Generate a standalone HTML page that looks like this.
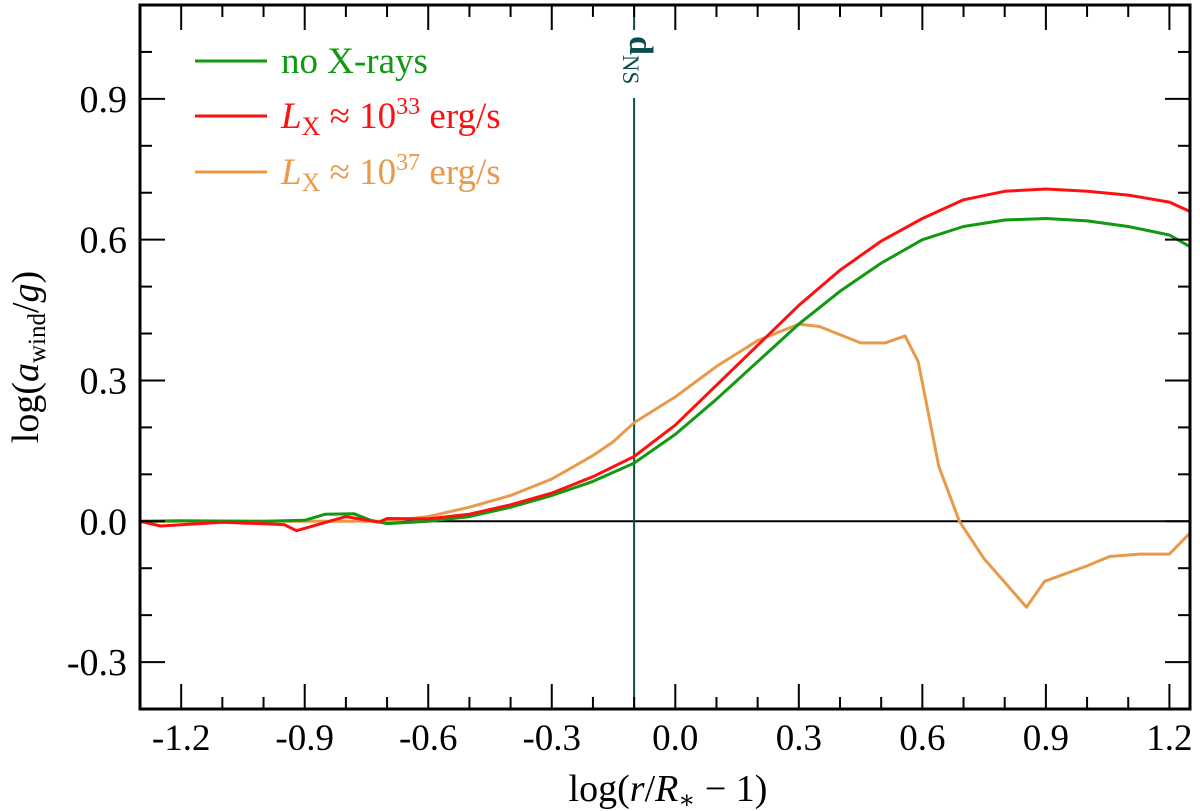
<!DOCTYPE html>
<html><head><meta charset="utf-8"><style>
html,body{margin:0;padding:0;background:#fff;}
svg{display:block;}
text{font-family:"Liberation Serif","DejaVu Serif",serif;}
</style></head><body>
<div style="position:relative;width:1200px;height:811px">
<svg id="chart" width="1200" height="811" viewBox="0 0 1200 811" style="position:absolute;left:0;top:0">
<g id="marks"></g>
<g id="axes"></g>
</svg>
<svg style="position:absolute;left:0;top:0" width="1200" height="811">
<text x="668" y="801" text-anchor="middle" font-size="38">log(<tspan font-style="italic">r</tspan>/<tspan font-style="italic">R</tspan><tspan font-size="25" dy="7">∗</tspan><tspan dy="-7"> − 1)</tspan></text>
<text transform="translate(38,357) rotate(-90)" text-anchor="middle" font-size="38">log(<tspan font-style="italic">a</tspan><tspan font-size="25" dy="7">wind</tspan><tspan dy="-7">/</tspan><tspan font-style="italic">g</tspan>)</text>
<g font-size="37">
<line x1="195" x2="267" y1="61" y2="61" stroke="#119911" stroke-width="3"/>
<text x="281" y="73" fill="#119911">no X-rays</text>
<line x1="195" x2="267" y1="116" y2="116" stroke="#ff1010" stroke-width="3"/>
<text x="281" y="128" fill="#ff1010"><tspan font-style="italic">L</tspan><tspan font-size="26" dy="7">X</tspan><tspan dy="-7"> ≈ 10</tspan><tspan font-size="24" dy="-14">33</tspan><tspan dy="14"> erg/s</tspan></text>
<line x1="195" x2="267" y1="172" y2="172" stroke="#e89a4a" stroke-width="3"/>
<text x="281" y="184" fill="#e89a4a"><tspan font-style="italic">L</tspan><tspan font-size="26" dy="7">X</tspan><tspan dy="-7"> ≈ 10</tspan><tspan font-size="24" dy="-14">37</tspan><tspan dy="14"> erg/s</tspan></text>
</g>
</svg>
</div>
<script>
const xTicks=[-1.2,-0.9,-0.6,-0.3,0.0,0.3,0.6,0.9,1.2];
const yTicks=[-0.3,0.0,0.3,0.6,0.9];
const dNS=-0.1;
const greenX=[-1.3,-1.2,-1.0,-0.9,-0.85,-0.78,-0.74,-0.7,-0.6,-0.5,-0.4,-0.3,-0.2,-0.1,0.0,0.1,0.2,0.3,0.4,0.5,0.6,0.7,0.8,0.9,1.0,1.1,1.2,1.25];
const greenY=[0,0.001,0.0,0.002,0.015,0.016,0.002,-0.005,0,0.01,0.03,0.055,0.085,0.124,0.185,0.26,0.34,0.42,0.49,0.55,0.6,0.628,0.642,0.645,0.64,0.628,0.61,0.585];
const redX=[-1.3,-1.25,-1.1,-0.95,-0.92,-0.8,-0.72,-0.7,-0.6,-0.5,-0.4,-0.3,-0.2,-0.1,0.0,0.1,0.2,0.3,0.4,0.5,0.6,0.7,0.8,0.9,1.0,1.1,1.2,1.25];
const redY=[0,-0.01,-0.002,-0.007,-0.02,0.01,-0.002,0.006,0.005,0.015,0.035,0.06,0.095,0.138,0.205,0.29,0.375,0.46,0.535,0.597,0.645,0.685,0.703,0.708,0.703,0.695,0.68,0.66];
const orangeX=[-1.3,-0.8,-0.7,-0.6,-0.5,-0.4,-0.3,-0.2,-0.15,-0.1,0.0,0.1,0.2,0.3,0.35,0.45,0.51,0.558,0.59,0.64,0.69,0.75,0.8,0.853,0.897,1.0,1.055,1.127,1.2,1.25];
const orangeY=[0,0,0,0.01,0.03,0.055,0.09,0.14,0.17,0.21,0.265,0.33,0.385,0.42,0.415,0.38,0.38,0.395,0.34,0.117,0,-0.08,-0.13,-0.183,-0.128,-0.095,-0.075,-0.07,-0.07,-0.025];
const L=140,R=1190,T=5,B=709,X0=-1.3,X1=1.25,Y0=-0.4,Y1=1.1;
const sx=v=>L+(v-X0)/(X1-X0)*(R-L);
const sy=v=>B-(v-Y0)/(Y1-Y0)*(B-T);
const NS="http://www.w3.org/2000/svg";
const marks=document.getElementById('marks'),axes=document.getElementById('axes');
function mk(tag,attrs,parent,text){const e=document.createElementNS(NS,tag);for(const k in attrs)e.setAttribute(k,attrs[k]);if(text!==undefined)e.textContent=text;parent.appendChild(e);return e;}
let z=mk('line',{x1:L,x2:R,y1:sy(0),y2:sy(0),stroke:'#000','stroke-width':2},marks);


let dl1=mk('line',{x1:sx(dNS),x2:sx(dNS),y1:T,y2:30,stroke:'#0b4d4d','stroke-width':2},marks);


let dl2=mk('line',{x1:sx(dNS),x2:sx(dNS),y1:98,y2:B,stroke:'#0b4d4d','stroke-width':2},marks);


let dt=mk('text',{x:0,y:0,transform:`translate(${sx(dNS)-4},36) rotate(90)`,fill:'#0b4d4d','font-size':34},marks);


mk('tspan',{'font-weight':'bold'},dt,'d');
mk('tspan',{'font-size':23,dy:7},dt,'NS');
function series(xs,ys,color,name){
 const d=xs.map((x,i)=>(i?'L':'M')+sx(x).toFixed(1)+','+sy(ys[i]).toFixed(1)).join(' ');
 const p=mk('path',{d:d,fill:'none',stroke:color,'stroke-width':3,'stroke-linejoin':'round'},marks);
 
 
}
series(orangeX,orangeY,'#e89a4a','series-lx-1e37');
series(greenX,greenY,'#119911','series-no-xrays');
series(redX,redY,'#ff1010','series-lx-1e33');
let fr=mk('rect',{x:L,y:T,width:R-L,height:B-T,fill:'none',stroke:'#000','stroke-width':3},axes);


for(let k=-13;k<=12;k++){const v=k/10;const x=sx(v);const major=Math.abs(Math.round(v*10)%3)===0;const len=major?25:12;
 mk('line',{x1:x,x2:x,y1:B,y2:B-len,stroke:'#000','stroke-width':2},axes);
 mk('line',{x1:x,x2:x,y1:T,y2:T+len,stroke:'#000','stroke-width':2},axes);}
for(let k=-4;k<=11;k++){const v=k/10;const y=sy(v);const major=Math.abs(k%3)===0;const len=major?25:12;
 mk('line',{x1:L,x2:L+len,y1:y,y2:y,stroke:'#000','stroke-width':2},axes);
 mk('line',{x1:R,x2:R-len,y1:y,y2:y,stroke:'#000','stroke-width':2},axes);}
xTicks.forEach(v=>{const t=mk('text',{x:sx(v),y:750,'text-anchor':'middle','font-size':37},axes,v.toFixed(1));
 
 });
yTicks.forEach(v=>{const t=mk('text',{x:127,y:sy(v)+13,'text-anchor':'end','font-size':38},axes,v.toFixed(1));
 
 });
</script>
</body></html>
